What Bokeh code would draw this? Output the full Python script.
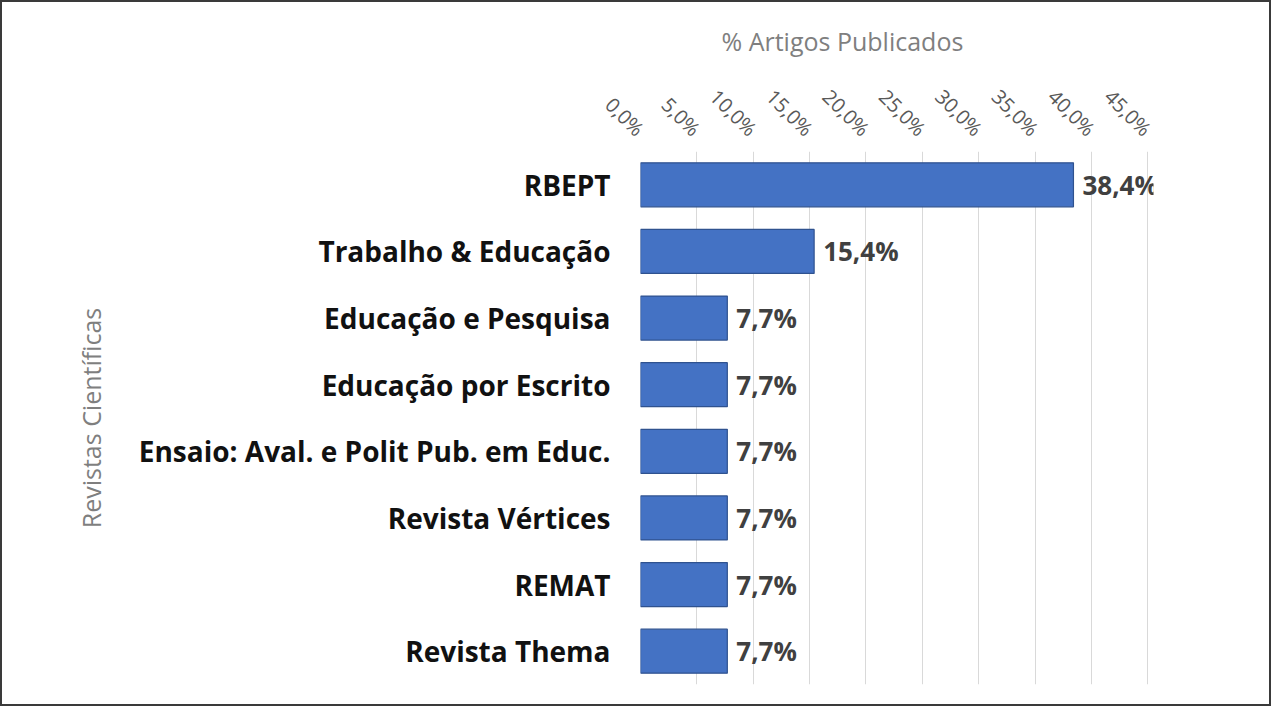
import math
from bokeh.plotting import figure
from bokeh.models import ColumnDataSource, FixedTicker, CustomJSTickFormatter, Range1d
from bokeh.core.properties import value
from bokeh.embed import file_html
from bokeh.resources import INLINE

categories = ["RBEPT", "Trabalho & Educação", "Educação e Pesquisa", "Educação por Escrito",
              "Ensaio: Aval. e Polit Pub. em Educ.", "Revista Vértices", "REMAT", "Revista Thema"]
values = [38.4, 15.4, 7.7, 7.7, 7.7, 7.7, 7.7, 7.7]
value_labels = ["38,4%", "15,4%", "7,7%", "7,7%", "7,7%", "7,7%", "7,7%", "7,7%"]
ticks = [0, 5, 10, 15, 20, 25, 30, 35, 40, 45]
x_title = "% Artigos Publicados"
y_title = "Revistas Científicas"

W, H = 1271, 706
p = figure(width=W, height=H, y_range=list(reversed(categories)), x_range=Range1d(0, 45.5),
           x_axis_location="above", output_backend="svg", toolbar_location=None,
           min_border_left=638, min_border_right=120, min_border_top=149, min_border_bottom=24)
p.styles = {"border": "2px solid #3a3a3a"}
p.outline_line_color = None
p.background_fill_color = "white"

p.title.text = x_title
p.title.align = "left"
p.title.offset = 81
p.title.standoff = 26
p.title.text_font = "Open Sans"
p.title.text_font_size = "25px"
p.title.text_font_style = "normal"
p.title.text_color = "#7f7f7f"

src = ColumnDataSource(dict(cat=categories, val=values, lab=value_labels))
p.hbar(y="cat", right="val", left=0, height=0.66, source=src,
       fill_color="#4472C4", line_color="#2F528F", line_width=1.2)
p.text(x="val", y="cat", text="lab", source=src, x_offset=9,
       text_baseline="middle", text_align="left", text_font=value("Open Sans"),
       text_font_style="bold", text_font_size="26px", text_color="#404040")

xa = p.xaxis[0]
xa.ticker = FixedTicker(ticks=ticks)
xa.formatter = CustomJSTickFormatter(code="return tick.toFixed(1).replace('.', ',') + '%';")
xa.major_label_orientation = -math.pi / 4
xa.major_label_text_font = "Open Sans"
xa.major_label_text_font_size = "20px"
xa.major_label_text_color = "#595959"
xa.axis_line_color = None
xa.major_tick_line_color = None
xa.minor_tick_line_color = None
xa.major_label_standoff = 13

ya = p.yaxis[0]
ya.major_label_text_font = "Open Sans"
ya.major_label_text_font_size = "28px"
ya.major_label_text_font_style = "bold"
ya.major_label_text_color = "#111111"
ya.axis_line_color = None
ya.major_tick_line_color = None
ya.minor_tick_line_color = None
ya.major_label_standoff = 24
ya.axis_label = y_title
ya.axis_label_text_font = "Open Sans"
ya.axis_label_text_font_size = "25px"
ya.axis_label_text_font_style = "normal"
ya.axis_label_text_color = "#7f7f7f"
ya.axis_label_standoff = 28

p.xgrid.grid_line_color = "#d9d9d9"
p.ygrid.grid_line_color = None

open("out.html", "w").write(file_html(p, INLINE))
